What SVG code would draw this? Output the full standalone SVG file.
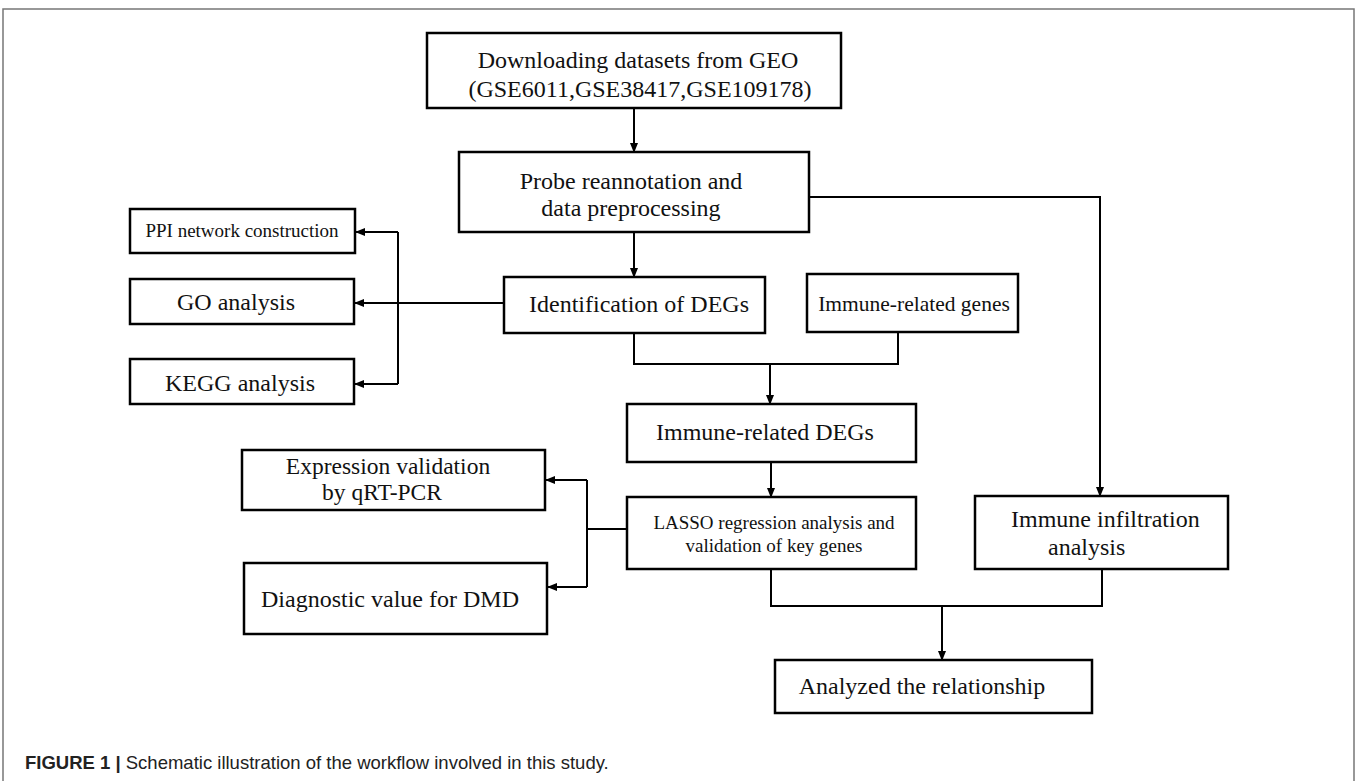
<svg xmlns="http://www.w3.org/2000/svg" width="1357" height="781" viewBox="0 0 1357 781">
<defs>
<marker id="ah" markerWidth="10" markerHeight="8" refX="9" refY="4" orient="auto" markerUnits="userSpaceOnUse">
<path d="M0,0 L10,4 L0,8 Z" fill="#000"/>
</marker>
<style>
.box{fill:#fff;stroke:#000;stroke-width:2.5}
.t{font-family:"Liberation Serif","Times New Roman",serif;font-size:24px;fill:#111}
.ts{font-family:"Liberation Serif","Times New Roman",serif;font-size:19px;fill:#111}
.c{text-anchor:middle}
.ln{fill:none;stroke:#000;stroke-width:2}
.frame{fill:none;stroke:#777;stroke-width:1.5}
.cap{font-family:"Liberation Sans",Arial,sans-serif;font-size:18.5px;fill:#222}
</style>
</defs>
<rect width="1357" height="781" fill="#fff"/>
<path class="frame" d="M3,781 V9 H1354 V781"/>

<g id="connectors">
<line class="ln" x1="634" y1="108" x2="634" y2="152" marker-end="url(#ah)"/>
<polyline class="ln" points="809,197 1100,197 1100,496" marker-end="url(#ah)"/>
<line class="ln" x1="634" y1="232" x2="634" y2="277" marker-end="url(#ah)"/>
<line class="ln" x1="504" y1="303" x2="398" y2="303"/>
<line class="ln" x1="398" y1="303" x2="355" y2="303" marker-end="url(#ah)"/>
<polyline class="ln" points="398,232 398,384"/>
<line class="ln" x1="398" y1="232" x2="356" y2="232" marker-end="url(#ah)"/>
<line class="ln" x1="398" y1="384" x2="355" y2="384" marker-end="url(#ah)"/>
<polyline class="ln" points="634,333 634,364 898,364 898,332"/>
<line class="ln" x1="770" y1="364" x2="770" y2="404" marker-end="url(#ah)"/>
<line class="ln" x1="771" y1="462" x2="771" y2="497" marker-end="url(#ah)"/>
<line class="ln" x1="627" y1="529" x2="587" y2="529"/>
<polyline class="ln" points="587,480 587,587"/>
<line class="ln" x1="587" y1="480" x2="546" y2="480" marker-end="url(#ah)"/>
<line class="ln" x1="587" y1="587" x2="548" y2="587" marker-end="url(#ah)"/>
<polyline class="ln" points="771,569 771,606 1102,606 1102,569"/>
<line class="ln" x1="942" y1="606" x2="942" y2="660" marker-end="url(#ah)"/>
</g>

<g id="n-download">
<rect class="box" x="427" y="33" width="414" height="75"/>
<text class="t c" x="638" y="68">Downloading datasets from GEO</text>
<text class="t c" x="640" y="97">(GSE6011,GSE38417,GSE109178)</text>
</g>
<g id="n-probe">
<rect class="box" x="459" y="152" width="350" height="80"/>
<text class="t c" x="631" y="189">Probe reannotation and</text>
<text class="t c" x="631" y="216">data preprocessing</text>
</g>
<g id="n-degs">
<rect class="box" x="504" y="277" width="261" height="56"/>
<text class="t c" x="639" y="312">Identification of DEGs</text>
</g>
<g id="n-immgenes">
<rect class="box" x="807" y="274" width="211" height="58"/>
<text class="t c" x="914" y="311" style="font-size:21.5px">Immune-related genes</text>
</g>
<g id="n-ppi">
<rect class="box" x="130" y="209" width="225" height="44"/>
<text class="ts c" x="242" y="237">PPI network construction</text>
</g>
<g id="n-go">
<rect class="box" x="130" y="279" width="224" height="45"/>
<text class="t c" x="236" y="310">GO analysis</text>
</g>
<g id="n-kegg">
<rect class="box" x="130" y="359" width="224" height="45"/>
<text class="t c" x="240" y="391">KEGG analysis</text>
</g>
<g id="n-immdegs">
<rect class="box" x="627" y="404" width="289" height="58"/>
<text class="t c" x="765" y="440">Immune-related DEGs</text>
</g>
<g id="n-lasso">
<rect class="box" x="627" y="497" width="289" height="72"/>
<text class="ts c" x="774" y="529">LASSO regression analysis and</text>
<text class="ts c" x="774" y="552">validation of key genes</text>
</g>
<g id="n-infil">
<rect class="box" x="975" y="496" width="253" height="73"/>
<text class="t" x="1011" y="527">Immune infiltration</text>
<text class="t" x="1048" y="555">analysis</text>
</g>
<g id="n-expr">
<rect class="box" x="242" y="450" width="303" height="60"/>
<text class="t c" x="388" y="474" style="font-size:23.5px">Expression validation</text>
<text class="t c" x="382" y="500" style="font-size:23.5px">by qRT-PCR</text>
</g>
<g id="n-diag">
<rect class="box" x="244" y="563" width="303" height="71"/>
<text class="t c" x="390" y="607">Diagnostic value for DMD</text>
</g>
<g id="n-analyzed">
<rect class="box" x="775" y="660" width="317" height="53"/>
<text class="t c" x="922" y="694">Analyzed the relationship</text>
</g>

<text class="cap" x="25" y="769"><tspan font-weight="bold">FIGURE 1 |</tspan> Schematic illustration of the workflow involved in this study.</text>
</svg>
